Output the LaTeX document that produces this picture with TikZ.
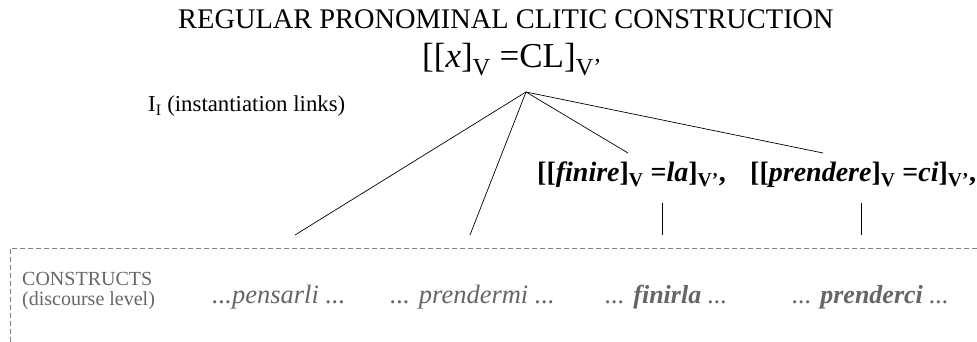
\documentclass[tikz,border=0pt]{standalone}
\usepackage{fontspec}
\setmainfont{Liberation Serif}
\tikzset{
  link/.style={draw=black, line width=0.7pt},
  lbl/.style={inner sep=0pt, anchor=base west},
  cons/.style={inner sep=0pt, anchor=base west, text=black!60},
  frame/.style={draw=black!50, dashed, dash pattern=on 5pt off 3pt, line width=0.7pt}
}
\begin{document}
\begin{tikzpicture}[x=1pt,y=-1pt]
\useasboundingbox (0,0) rectangle (977,342);
\node[inner sep=0pt, anchor=base, font=\fontsize{28.4}{32}\selectfont] (title) at (506,29) {REGULAR PRONOMINAL CLITIC CONSTRUCTION};
\node[lbl, font=\fontsize{35}{40}\selectfont] (schema) at (422,68) {[[\textit{x}]\textsubscript{V} =CL]\textsubscript{V’}};
\node[lbl, font=\fontsize{22.8}{26}\selectfont] (inst) at (148,112) {I\textsubscript{I} (instantiation links)};
\node[lbl, font=\fontsize{28}{32}\bfseries\selectfont] (finire) at (537,182) {[[\textit{finire}]\textsubscript{V} =\textit{la}]\textsubscript{V’},};
\node[lbl, font=\fontsize{28}{32}\bfseries\selectfont] (prendere) at (750,182) {[[\textit{prendere}]\textsubscript{V} =\textit{ci}]\textsubscript{V’},};

\coordinate (apex) at (526,92);
\coordinate (e1) at (295,235);
\coordinate (e2) at (470,235);
\coordinate (e3) at (628,153);
\coordinate (e4) at (823,153);
\coordinate (f1) at (662,203);
\coordinate (f2) at (662,235);
\coordinate (p1) at (861,203);
\coordinate (p2) at (861,235);
\draw[link] (apex) -- (e1);
\draw[link] (apex) -- (e2);
\draw[link] (apex) -- (e3);
\draw[link] (apex) -- (e4);
\draw[link] (f1) -- (f2);
\draw[link] (p1) -- (p2);

\coordinate (fl) at (10,342);
\coordinate (ft) at (10,248);
\coordinate (fr) at (977,248);
\draw[frame] (fl) -- (ft) -- (fr);

\node[cons, font=\fontsize{20}{22}\selectfont] (constructs) at (22,285) {CONSTRUCTS};
\node[cons, font=\fontsize{20}{22}\selectfont] (disc) at (22,305) {(discourse level)};
\node[cons, font=\fontsize{26.5}{30}\itshape\selectfont] (c1) at (212,303) {...pensarli ...};
\node[cons, font=\fontsize{26.5}{30}\itshape\selectfont] (c2) at (390,303) {... prendermi ...};
\node[cons, font=\fontsize{26}{30}\itshape\selectfont] (c3) at (605,303) {... \textbf{finirla} ...};
\node[cons, font=\fontsize{26}{30}\itshape\selectfont] (c4) at (792,303) {... \textbf{prenderci} ...};
\end{tikzpicture}
\end{document}
